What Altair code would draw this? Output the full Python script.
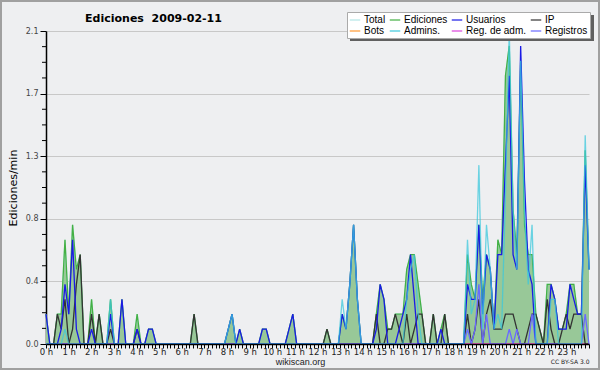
import altair as alt
import pandas as pd

# ---------------- data (10-minute bins, 144 per day) ----------------
series = ["Total", "Ediciones", "Usuarios", "IP", "Bots", "Admins.", "Reg. de adm.", "Registros"]
colors = ["#b4e6e6", "#44b044", "#1a1ae6", "#333333", "#ff9933", "#3cc8dc", "#dd44dd", "#6a6aff"]

ediciones = [
    0.2, 0, 0, 0.2, 0.2, 0.7,       # 0 h
    0.2, 0.8, 0.5, 0.6, 0, 0,       # 1 h
    0.3, 0, 0.2, 0, 0, 0.3,         # 2 h
    0, 0, 0.3, 0, 0, 0,             # 3 h
    0.2, 0, 0, 0.1, 0.1, 0,         # 4 h
    0, 0, 0, 0, 0, 0,               # 5 h
    0, 0, 0, 0.2, 0, 0,             # 6 h
    0, 0, 0, 0, 0, 0,               # 7 h
    0.1, 0.2, 0, 0.1, 0, 0,         # 8 h
    0, 0, 0, 0.1, 0.1, 0,           # 9 h
    0, 0, 0, 0, 0.1, 0.2,           # 10 h
    0, 0, 0, 0, 0, 0,               # 11 h
    0, 0, 0.1, 0, 0, 0,             # 12 h
    0.2, 0.1, 0.4, 0.8, 0.3, 0,     # 13 h
    0, 0, 0, 0.2, 0.4, 0.3,         # 14 h
    0.1, 0.1, 0.2, 0.2, 0.2, 0.5,   # 15 h
    0.6, 0.6, 0.4, 0.2, 0, 0,       # 16 h
    0.2, 0, 0.1, 0.2, 0, 0,         # 17 h
    0, 0, 0, 0.6, 0.4, 0.3,         # 18 h
    0.8, 0.3, 0.6, 0.5, 0.1, 0.7,   # 19 h
    0.6, 1.8, 2.0, 0.9, 0.6, 1.9,   # 20 h
    0.8, 0.6, 0.6, 0.2, 0.1, 0,     # 21 h
    0.4, 0.4, 0.3, 0.1, 0.1, 0.2,   # 22 h
    0.4, 0.4, 0.2, 0.2, 1.3, 0.5,   # 23 h
]

total = [
    0.2, 0, 0, 0.2, 0.2, 0.7,
    0.2, 0.8, 0.5, 0.6, 0, 0,
    0.3, 0, 0.2, 0, 0, 0.3,
    0, 0, 0.3, 0, 0, 0,
    0.2, 0, 0, 0.1, 0.1, 0,
    0, 0, 0, 0, 0, 0,
    0, 0, 0, 0.2, 0, 0,
    0, 0, 0, 0, 0, 0,
    0.1, 0.2, 0, 0.1, 0, 0,
    0, 0, 0, 0.1, 0.1, 0,
    0, 0, 0, 0, 0.1, 0.2,
    0, 0, 0, 0, 0, 0,
    0, 0, 0.1, 0, 0, 0,
    0.2, 0.1, 0.4, 0.8, 0.3, 0,
    0, 0, 0, 0.2, 0.4, 0.3,
    0.1, 0.1, 0.2, 0.2, 0.2, 0.5,
    0.6, 0.6, 0.4, 0.2, 0, 0,
    0.2, 0, 0.1, 0.2, 0, 0,
    0, 0, 0, 0.6, 0.4, 0.3,
    0.8, 0.3, 0.6, 0.5, 0.1, 0.7,
    0.6, 1.8, 2.0, 0.9, 0.6, 1.9,
    0.8, 0.6, 0.6, 0.2, 0.1, 0,
    0.4, 0.4, 0.3, 0.1, 0.1, 0.2,
    0.4, 0.4, 0.2, 0.2, 1.3, 0.5,
]

usuarios = [
    0.2, 0, 0, 0, 0.1, 0.4,
    0.2, 0.7, 0.1, 0, 0, 0,
    0.1, 0, 0, 0, 0, 0.2,
    0, 0, 0.3, 0, 0, 0,
    0.1, 0, 0, 0.1, 0.1, 0,
    0, 0, 0, 0, 0, 0,
    0, 0, 0, 0, 0, 0,
    0, 0, 0, 0, 0, 0,
    0.1, 0.2, 0, 0.1, 0, 0,
    0, 0, 0, 0.1, 0.1, 0,
    0, 0, 0, 0, 0.1, 0.2,
    0, 0, 0, 0, 0, 0,
    0, 0, 0, 0, 0, 0,
    0.2, 0.1, 0.4, 0.8, 0.3, 0,
    0, 0, 0, 0.1, 0.4, 0.3,
    0, 0, 0, 0.1, 0.2, 0.3,
    0.6, 0.3, 0, 0, 0, 0,
    0, 0, 0.1, 0, 0, 0,
    0, 0, 0, 0.4, 0.3, 0.3,
    0.8, 0.2, 0.6, 0.5, 0.1, 0.6,
    0.6, 1.2, 1.8, 0.6, 0.5, 2.0,
    1.1, 0.5, 0.4, 0, 0, 0,
    0, 0.4, 0.3, 0.1, 0.1, 0.1,
    0.4, 0.3, 0.2, 0.2, 1.2, 0.5,
]

ip = [
    0, 0, 0, 0.2, 0.1, 0.3,
    0, 0.1, 0.4, 0.6, 0, 0,
    0.2, 0, 0.2, 0, 0, 0.1,
    0, 0, 0, 0, 0, 0,
    0.1, 0, 0, 0, 0, 0,
    0, 0, 0, 0, 0, 0,
    0, 0, 0, 0.2, 0, 0,
    0, 0, 0, 0, 0, 0,
    0, 0, 0, 0, 0, 0,
    0, 0, 0, 0, 0, 0,
    0, 0, 0, 0, 0, 0,
    0, 0, 0, 0, 0, 0,
    0, 0, 0.1, 0, 0, 0,
    0, 0, 0, 0, 0, 0,
    0, 0, 0, 0.2, 0, 0,
    0.1, 0.1, 0.2, 0.1, 0, 0.2,
    0, 0.1, 0.2, 0.2, 0, 0,
    0.2, 0, 0, 0.2, 0, 0,
    0, 0, 0, 0.2, 0, 0.1,
    0.3, 0, 0.2, 0.3, 0.1, 0.1,
    0.1, 0.2, 0.2, 0.2, 0.1, 0,
    0, 0.1, 0.2, 0.2, 0.1, 0,
    0.3, 0.1, 0, 0, 0.1, 0.2,
    0.1, 0.2, 0.2, 0.2, 0, 0,
]

admins = [
    0, 0, 0, 0, 0, 0.1,
    0, 0, 0, 0, 0, 0,
    0, 0, 0, 0, 0, 0.3,
    0, 0, 0, 0, 0, 0,
    0, 0, 0, 0, 0, 0,
    0, 0, 0, 0, 0, 0,
    0, 0, 0, 0, 0, 0,
    0, 0, 0, 0, 0, 0,
    0.1, 0.2, 0, 0, 0, 0,
    0, 0, 0, 0, 0, 0,
    0, 0, 0, 0, 0, 0,
    0, 0, 0, 0, 0, 0,
    0, 0, 0, 0, 0, 0,
    0.3, 0.1, 0.4, 0.8, 0.3, 0,
    0, 0, 0, 0, 0, 0,
    0, 0, 0, 0, 0, 0.3,
    0.5, 0.6, 0.2, 0, 0, 0,
    0, 0, 0, 0, 0, 0,
    0, 0, 0, 0.7, 0.2, 0.3,
    1.2, 0.1, 0.8, 0.5, 0.1, 0.2,
    0.1, 1.0, 2.1, 0.9, 0.5, 1.9,
    0.9, 0.4, 0.8, 0, 0, 0,
    0, 0.3, 0.3, 0, 0, 0,
    0, 0, 0, 0, 1.4, 0.5,
]

registros = [
    0, 0, 0, 0, 0, 0,
    0, 0, 0, 0, 0, 0,
    0, 0, 0, 0, 0, 0,
    0, 0, 0, 0, 0, 0,
    0, 0, 0, 0, 0, 0,
    0, 0, 0, 0, 0, 0,
    0, 0, 0, 0, 0, 0,
    0, 0, 0, 0, 0, 0,
    0, 0, 0, 0, 0, 0,
    0, 0, 0, 0, 0, 0,
    0, 0, 0, 0, 0, 0,
    0, 0, 0, 0, 0, 0,
    0, 0, 0, 0, 0, 0,
    0, 0, 0, 0, 0, 0,
    0, 0, 0, 0, 0, 0,
    0, 0, 0, 0, 0, 0,
    0, 0, 0, 0, 0, 0,
    0, 0, 0, 0, 0, 0,
    0, 0, 0, 0.1, 0, 0.1,
    0.4, 0, 0.2, 0, 0, 0,
    0, 0, 0.1, 0, 0.1, 0,
    0, 0, 0.2, 0, 0, 0,
    0, 0, 0, 0, 0, 0,
    0, 0, 0, 0, 0.2, 0,
]

bots = [0] * 144
reg_adm = [0] * 144

y_ticks = [0, 0.42, 0.84, 1.26, 1.68, 2.1]
y_minor = [0.105, 0.21, 0.315, 0.525, 0.63, 0.735, 0.945, 1.05, 1.155,
           1.365, 1.47, 1.575, 1.785, 1.89, 1.995]
x_ticks = [m / 6 for m in range(145)]   # every 10 minutes, 0 h .. 24 h

title_text = "Ediciones\u00a0 2009-02-11"
footer_text = "wikiscan.org"
license_text = "CC BY-SA 3.0"

# ---------------- build long table ----------------
values_by_series = {
    "Total": total, "Ediciones": ediciones, "Usuarios": usuarios, "IP": ip,
    "Bots": bots, "Admins.": admins, "Reg. de adm.": reg_adm, "Registros": registros,
}
rows = []
for name in series:
    for k, v in enumerate(values_by_series[name]):
        rows.append({"bin": k, "serie": name, "valor": v})
df = pd.DataFrame(rows)

base = alt.Chart(df).transform_calculate(hora="datum.bin * 24 / 143")

x_enc = alt.X(
    "hora:Q",
    scale=alt.Scale(domain=[0, 24], nice=False, zero=False),
    axis=alt.Axis(
        values=x_ticks,
        labelExpr="datum.value % 1 === 0 && datum.value < 24 ? datum.value + ' h' : ''",
        title=None, grid=False, tickSize=4, tickColor="#000000", tickWidth=1,
        domainColor="#000000", domainWidth=1.5,
        labelFont="DejaVu Sans", labelFontSize=8.5, labelColor="#222222",
        labelPadding=-1, labelOverlap=False, labelFlush=False, zindex=1,
    ),
)
y_enc = alt.Y(
    "valor:Q",
    scale=alt.Scale(domain=[0, 2.1], nice=False, zero=True),
    axis=alt.Axis(
        values=y_ticks, format=".1f", title="Ediciones/min",
        titleFont="DejaVu Sans", titleFontSize=11, titleFontWeight="normal",
        titleColor="#000000", titleX=-28, titleY=156.5,
        grid=True, gridColor="#c8c8c8", gridWidth=1,
        tickSize=6, tickColor="#000000", domainColor="#000000", domainWidth=1.5,
        labelFont="DejaVu Sans", labelFontSize=8, labelColor="#444444", labelPadding=2,
    ),
)
color_enc = alt.Color(
    "serie:N",
    scale=alt.Scale(domain=series, range=colors),
    legend=alt.Legend(
        title=None, orient="none", legendX=301, legendY=-19, columns=4,
        direction="horizontal", symbolType="stroke", symbolSize=110,
        symbolStrokeWidth=1.2, labelFont="Liberation Sans", labelFontSize=10,
        labelColor="#000000", fillColor="#ffffff", strokeColor="#aaaaaa",
        padding=2, rowPadding=0, columnPadding=1, labelOffset=3, labelLimit=200,
    ),
)

# decorations
one = pd.DataFrame({"a": [0]})
border = alt.Chart(one).mark_rect(fill=None, stroke="#a0a0a0", strokeWidth=2).encode(
    x=alt.value(-45), x2=alt.value(553), y=alt.value(-30), y2=alt.value(338))
shadow = alt.Chart(one).mark_rect(fill="#606060").encode(
    x=alt.value(304), x2=alt.value(548), y=alt.value(-16), y2=alt.value(10))

area = base.transform_filter(alt.datum.serie == "Ediciones").mark_area(
    color="#98c898", opacity=1).encode(x=x_enc, y=y_enc)

draw_order = [("Total", 1.0), ("Bots", 1.0), ("Reg. de adm.", 1.0), ("Ediciones", 1.0),
              ("IP", 1.0), ("Registros", 1.0), ("Usuarios", 1.0), ("Admins.", 0.75)]
lines = []
for name, op in draw_order:
    lines.append(
        base.transform_filter(alt.datum.serie == name)
        .mark_line(strokeWidth=1.3, opacity=op)
        .encode(x=x_enc, y=y_enc, color=color_enc)
    )

minor = alt.Chart(pd.DataFrame({"valor": y_minor})).mark_rule(color="#000000", strokeWidth=1).encode(
    y=y_enc, x=alt.value(-4), x2=alt.value(0))

title = alt.Chart(pd.DataFrame({"t": [title_text]})).mark_text(
    font="DejaVu Sans", fontSize=11, fontWeight="bold", align="center",
    baseline="alphabetic", color="#000000").encode(
    text="t:N", x=alt.value(107.5), y=alt.value(-9.5))
footer = alt.Chart(pd.DataFrame({"t": [footer_text]})).mark_text(
    font="Liberation Sans", fontSize=9, align="center", baseline="alphabetic",
    color="#222222").encode(text="t:N", x=alt.value(254.5), y=alt.value(333.5))
lic = alt.Chart(pd.DataFrame({"t": [license_text]})).mark_text(
    font="DejaVu Sans", fontSize=6, align="right", baseline="alphabetic",
    color="#222222").encode(text="t:N", x=alt.value(543.5), y=alt.value(333))

chart = alt.layer(area, *lines, minor, shadow, border, title, footer, lic).properties(
    width=543, height=313,
    autosize=alt.AutoSizeParams(type="none"),
    padding={"left": 46, "top": 31, "right": 11, "bottom": 26},
    background="#eeeff1",
).configure_view(stroke=None)

chart.save("out.html", embed_options={"renderer": "svg", "actions": False})
